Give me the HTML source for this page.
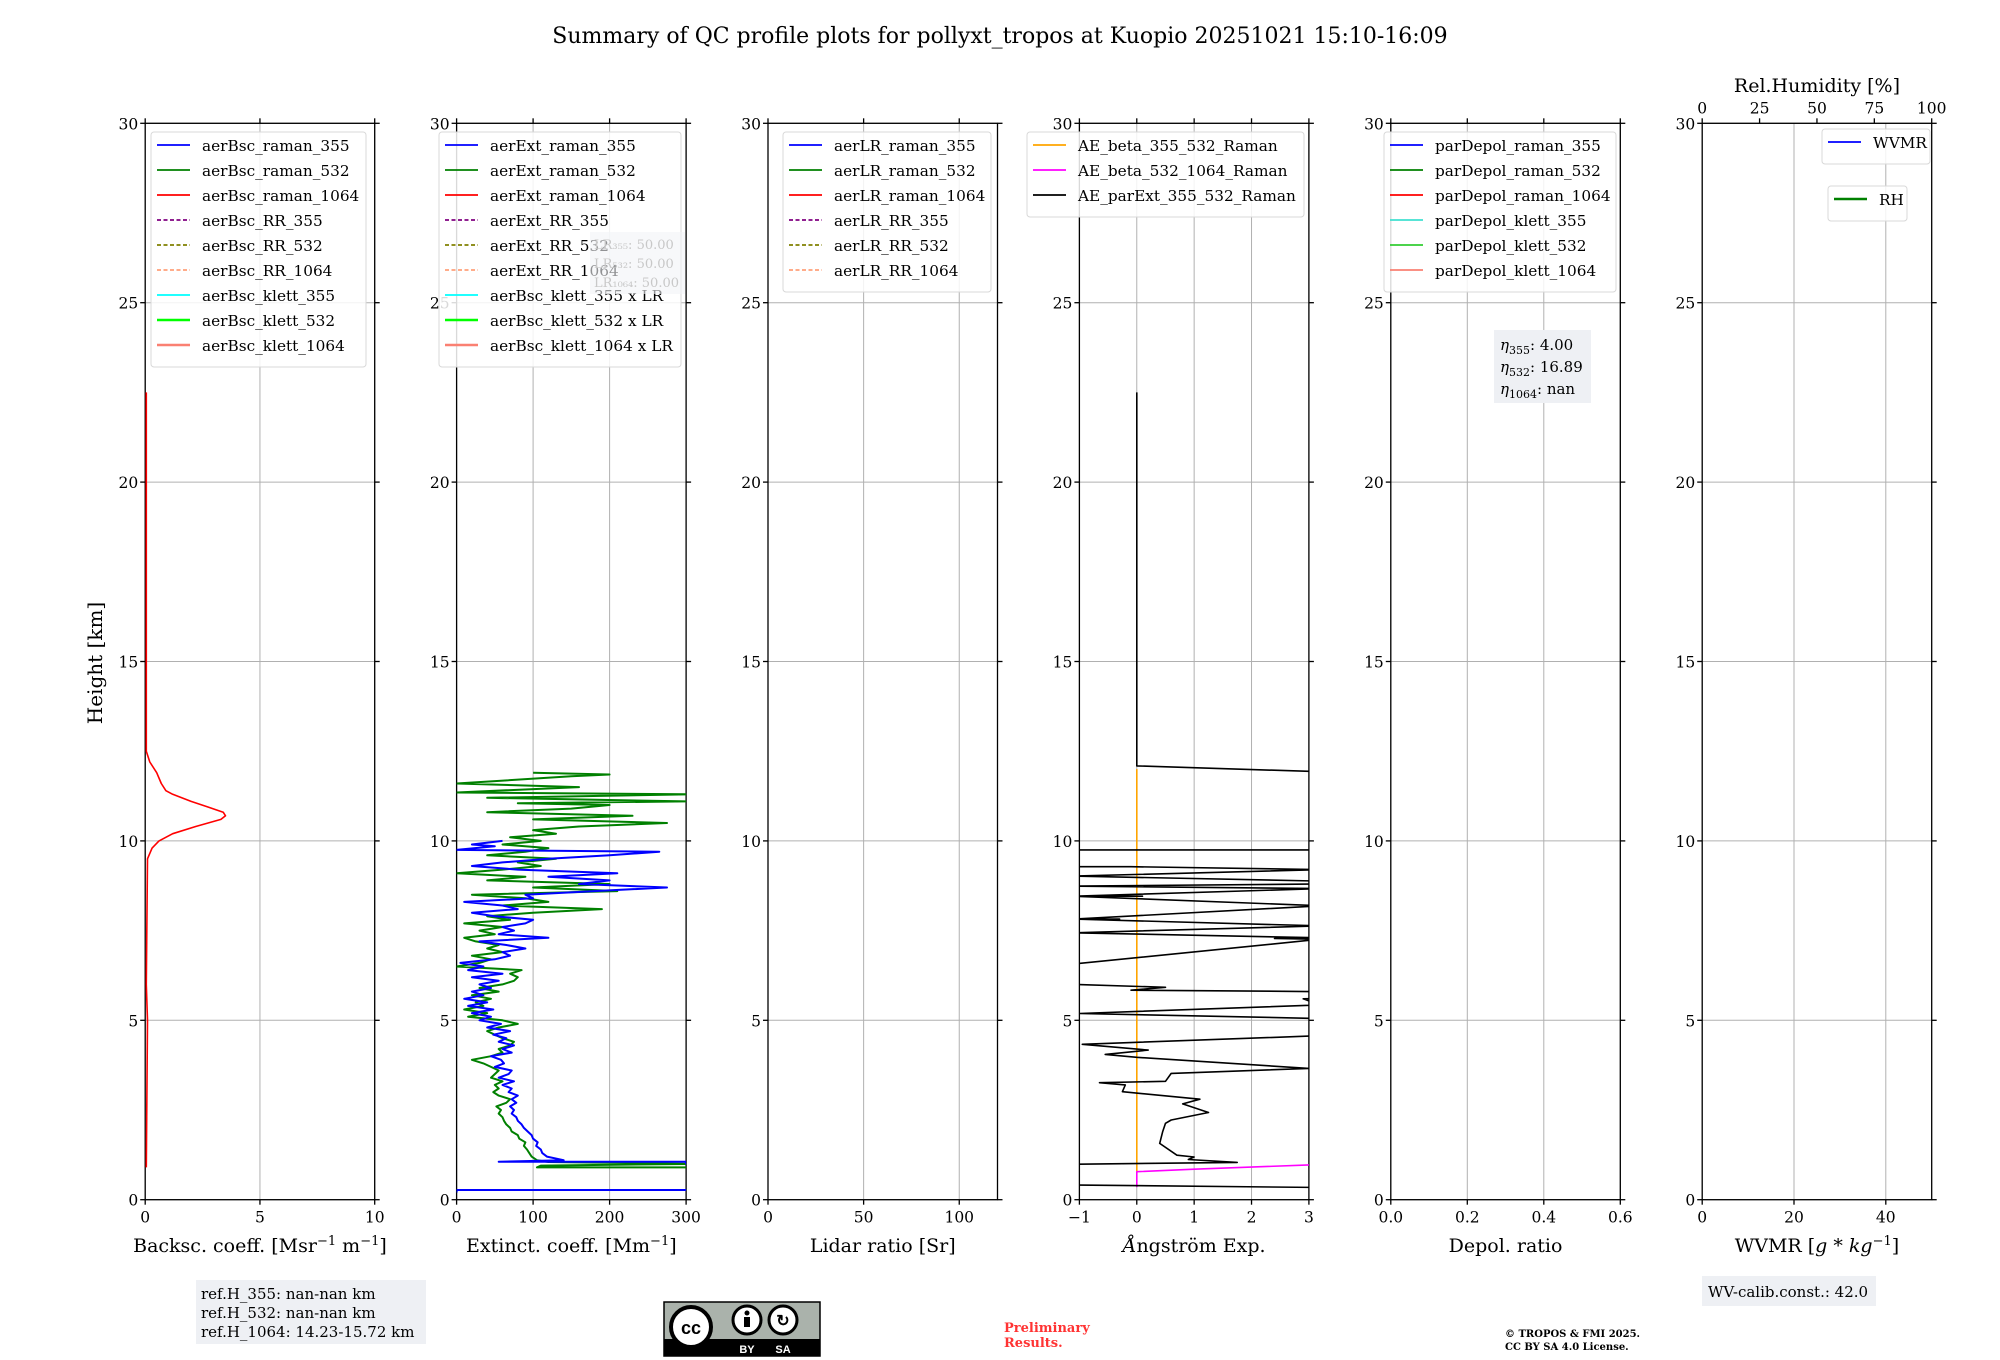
<!DOCTYPE html>
<html><head><meta charset="utf-8">
<style>
html,body{margin:0;padding:0;background:#fff;}
svg{display:block;font-family:"DejaVu Serif","Liberation Serif",serif;}
</style></head>
<body>
<svg id="fig" width="2000" height="1360" viewBox="0 0 2000 1360" xmlns="http://www.w3.org/2000/svg">
<text x="1000" y="43" font-size="22" text-anchor="middle">Summary of QC profile plots for pollyxt_tropos at Kuopio 20251021 15:10-16:09</text>
<text transform="translate(102,663) rotate(-90)" font-size="20" text-anchor="middle">Height [km]</text>
<g id="panels"></g>
<rect x="196" y="1280" width="230" height="64" fill="#eef0f4"/>
<text font-size="15"><tspan x="201" y="1299">ref.H_355: nan-nan km</tspan><tspan x="201" y="1318">ref.H_532: nan-nan km</tspan><tspan x="201" y="1337">ref.H_1064: 14.23-15.72 km</tspan></text>
<g>
<rect x="664" y="1302" width="156" height="54" fill="#aab2ab" stroke="#000" stroke-width="1.5"/>
<rect x="664" y="1339" width="156" height="17" fill="#000"/>
<circle cx="691" cy="1327" r="20" fill="#fff" stroke="#000" stroke-width="4"/>
<text x="691" y="1334" font-size="18" font-weight="bold" text-anchor="middle" font-family="Liberation Sans, sans-serif">cc</text>
<circle cx="747" cy="1320" r="14" fill="#fff" stroke="#000" stroke-width="3"/>
<circle cx="747" cy="1313" r="2.5" fill="#000"/><rect x="744" y="1317" width="6" height="10" fill="#000"/>
<circle cx="783" cy="1320" r="14" fill="#fff" stroke="#000" stroke-width="3"/>
<text x="783" y="1326" font-size="16" font-weight="bold" text-anchor="middle" font-family="Liberation Sans, sans-serif">↻</text>
<text x="747" y="1353" font-size="11" fill="#fff" font-weight="bold" text-anchor="middle" font-family="Liberation Sans, sans-serif">BY</text>
<text x="783" y="1353" font-size="11" fill="#fff" font-weight="bold" text-anchor="middle" font-family="Liberation Sans, sans-serif">SA</text>
</g>
<text font-size="13" font-weight="bold" fill="#ff3333"><tspan x="1004" y="1332">Preliminary</tspan><tspan x="1004" y="1347">Results.</tspan></text>
<text font-size="10" font-weight="bold"><tspan x="1505" y="1337">© TROPOS &amp; FMI 2025.</tspan><tspan x="1505" y="1350">CC BY SA 4.0 License.</tspan></text>
<rect x="1702" y="1276" width="174" height="30" fill="#eef0f4"/>
<text x="1708" y="1297" font-size="15">WV-calib.const.: 42.0</text>
</svg>
<script>
// ---- data ----
const heightTicks = [0,5,10,15,20,25,30];
const bscHeights = [0.9,5,6,9.5,9.8,10.0,10.2,10.4,10.6,10.7,10.8,10.95,11.1,11.3,11.4,11.6,11.9,12.2,12.5,22.5];
const bsc1064 = [0.05,0.1,0.05,0.1,0.3,0.6,1.2,2.2,3.3,3.5,3.4,2.7,2.0,1.2,0.9,0.7,0.5,0.2,0.05,0.05];
const ext355Heights = [0.2,0.27,0.27,1.0,1.0,1.06,1.06,1.1,1.2,1.3,1.4,1.5,1.6,1.7,1.8,1.9,2.0,2.1,2.2,2.3,2.4,2.5,2.6,2.7,2.8,2.9,3.0,3.1,3.2,3.3,3.4,3.5,3.6,3.7,3.8,3.9,4.0,4.1,4.2,4.3,4.4,4.5,4.6,4.7,4.8,4.9,5.0,5.1,5.2,5.3,5.4,5.5,5.6,5.7,5.8,5.9,6.0,6.1,6.2,6.3,6.4,6.5,6.6,6.7,6.8,6.9,7.0,7.1,7.2,7.3,7.4,7.5,7.6,7.7,7.8,7.9,8.0,8.1,8.2,8.3,8.4,8.5,8.6,8.7,8.8,8.9,9.0,9.1,9.2,9.3,9.4,9.5,9.6,9.7,9.75,9.85,9.9,10.0];
const ext355 = [0,0,320,320,300,300,55,140,118,112,110,104,106,100,98,93,88,85,80,78,72,75,70,78,72,80,68,72,60,75,55,68,72,50,62,58,45,72,60,75,55,65,48,70,40,58,30,45,20,48,15,40,10,35,20,45,30,55,20,60,15,35,5,50,70,60,90,65,30,120,55,75,60,90,100,50,20,80,60,10,100,90,180,275,160,200,120,210,80,20,60,120,200,265,0,50,20,60];
const ext532Heights = [0.2,0.27,0.27,0.9,0.9,0.95,1.0,1.0,1.05,1.1,1.2,1.3,1.4,1.5,1.6,1.7,1.8,1.9,2.0,2.1,2.2,2.3,2.4,2.5,2.6,2.7,2.8,2.9,3.0,3.1,3.2,3.3,3.4,3.5,3.6,3.7,3.8,3.9,4.0,4.1,4.2,4.3,4.4,4.5,4.6,4.7,4.8,4.9,5.0,5.1,5.2,5.3,5.4,5.5,5.6,5.7,5.8,5.9,6.0,6.1,6.2,6.3,6.4,6.5,6.6,6.7,6.8,6.9,7.0,7.1,7.2,7.3,7.4,7.5,7.6,7.7,7.8,7.9,8.0,8.1,8.2,8.3,8.4,8.5,8.6,8.7,8.8,8.9,9.0,9.1,9.2,9.3,9.4,9.5,9.6,9.7,9.8,9.9,10.0,10.1,10.2,10.3,10.4,10.5,10.6,10.7,10.8,10.9,11.0,11.05,11.1,11.2,11.3,11.35,11.5,11.6,11.8,11.85,11.9];
const ext532 = [0,0,320,320,105,110,320,300,120,105,98,95,92,88,90,82,80,72,70,65,62,60,55,58,52,65,70,55,48,55,50,60,45,50,55,45,35,20,45,60,55,70,75,60,50,40,55,80,60,15,40,10,35,25,45,20,55,30,60,75,80,70,85,0,30,45,20,60,40,55,25,10,50,30,60,10,70,40,100,190,60,120,90,20,210,100,200,40,90,0,60,110,80,130,40,90,120,60,110,70,130,100,160,275,100,230,40,150,200,80,300,40,310,0,160,0,150,200,100];
const aeHeights = [22.5,12.09,11.93,9.75,9.75,9.28,9.28,9.2,9.02,8.88,8.8,8.74,8.67,8.46,8.46,8.46,8.19,7.82,7.82,7.82,7.63,7.44,7.3,7.28,7.26,6.57,6.0,5.92,5.84,5.8,5.61,5.6,5.43,5.19,5.05,4.57,4.33,4.17,4.05,3.97,3.66,3.52,3.3,3.26,3.2,3.01,2.8,2.67,2.43,2.22,2.13,1.89,1.57,1.24,1.19,1.12,1.04,0.99,0.41,0.34];
const aeParExt = [0,0,3.2,3.2,-1.1,-1.1,-0.1,3.2,-1.1,3.2,3.2,-1.1,3.2,-1.1,0.1,-1.1,3.2,-1.1,-0.3,-1.1,3.2,-1.1,3.2,2.4,3.2,-1.1,-1.1,0.5,-0.1,3.2,3.2,2.9,3.2,-1.0,3.2,3.2,-0.95,0.2,-0.55,0.0,3.0,0.6,0.5,-0.65,-0.2,-0.25,1.1,0.8,1.25,0.6,0.5,0.45,0.4,0.7,1.0,0.9,1.75,-1.1,-1.1,3.2];
const aeBeta1064Heights = [0.35,0.78,0.85,0.98];
const aeBeta1064 = [0,0,1.0,3.2];
const aeBeta355Heights = [0.8,12.0];
const aeBeta355 = [0,0];

// ---- layout ----
const TOP=123.3, BOT=1199.7, W=229.5, STEP=311.4, LEFTS=[0,1,2,3,4,5].map(i=>145.2+i*STEP);
const NS="http://www.w3.org/2000/svg";
const root=document.getElementById('panels');
function el(tag,attrs,parent){const e=document.createElementNS(NS,tag);for(const k in attrs)e.setAttribute(k,attrs[k]);(parent||root).appendChild(e);return e;}
const yScale=h=>BOT-(h/30)*(BOT-TOP);

const panels=[
 {name:'backscatter',min:0,max:10,ticks:[0,5,10],fmt:v=>String(v),label:'Backsc. coeff. [Msr<tspan dy="-7" font-size="13">−1</tspan><tspan dy="7"> m</tspan><tspan dy="-7" font-size="13">−1</tspan><tspan dy="7">]</tspan>'},
 {name:'extinction',min:0,max:300,ticks:[0,100,200,300],fmt:v=>String(v),label:'Extinct. coeff. [Mm<tspan dy="-7" font-size="13">−1</tspan><tspan dy="7">]</tspan>'},
 {name:'lidar-ratio',min:0,max:120,ticks:[0,50,100],fmt:v=>String(v),label:'Lidar ratio [Sr]'},
 {name:'angstrom',min:-1,max:3,ticks:[-1,0,1,2,3],fmt:v=>v<0?'−'+(-v):String(v),label:'<tspan font-style="italic">Å</tspan>ngström Exp.'},
 {name:'depol',min:0,max:0.6,ticks:[0,0.2,0.4,0.6],fmt:v=>v.toFixed(1),label:'Depol. ratio'},
 {name:'wvmr',min:0,max:50,ticks:[0,20,40],fmt:v=>String(v),label:'WVMR [<tspan font-style="italic">g</tspan> * <tspan font-style="italic">kg</tspan><tspan dy="-7" font-size="13">−1</tspan><tspan dy="7">]</tspan>'}
];
const xScales=[];
panels.forEach((p,i)=>{
  const L=LEFTS[i], R=L+W;
  const xs=v=>L+(v-p.min)/(p.max-p.min)*W; xScales.push(xs);
  const g=el('g',{});
  
  
  const cp=el('clipPath',{id:'clip'+i},g);
  el('rect',{x:L,y:TOP,width:W,height:BOT-TOP},cp);
  p.ticks.forEach(t=>{const gl=el('line',{x1:xs(t),x2:xs(t),y1:TOP,y2:BOT,stroke:'#b0b0b0','stroke-width':1},g);});
  heightTicks.forEach(t=>{const gl=el('line',{x1:L,x2:R,y1:yScale(t),y2:yScale(t),stroke:'#b0b0b0','stroke-width':1},g);});
  const fr=el('rect',{x:L,y:TOP,width:W,height:BOT-TOP,fill:'none',stroke:'#000','stroke-width':1.3},g);
  
  
  heightTicks.forEach(t=>{
    const y=yScale(t);
    el('line',{x1:L-5,x2:L,y1:y,y2:y,stroke:'#000','stroke-width':1.3},g);
    el('line',{x1:R,x2:R+5,y1:y,y2:y,stroke:'#000','stroke-width':1.3},g);
    const tl=el('text',{x:L-7,y:y+6,'font-size':15.5,'text-anchor':'end'},g);tl.textContent=t;
    
    
  });
  p.ticks.forEach(t=>{
    const x=xs(t);
    el('line',{x1:x,x2:x,y1:BOT,y2:BOT+5,stroke:'#000','stroke-width':1.3},g);
    if(i<5) el('line',{x1:x,x2:x,y1:TOP-5,y2:TOP,stroke:'#000','stroke-width':1.3},g);
    const tl=el('text',{x:x,y:BOT+23,'font-size':15.5,'text-anchor':'middle'},g);tl.textContent=p.fmt(t);
    
    
  });
  const xl=el('text',{x:L+W/2,y:1252,'font-size':19,'text-anchor':'middle'},g);xl.innerHTML=p.label;
  
  
  p.g=g;
});

function series(pi,hs,vs,color,name,w){
  const xs=xScales[pi];
  const d=hs.map((h,k)=>(k?'L':'M')+xs(vs[k]).toFixed(1)+','+yScale(h).toFixed(1)).join('');
  const pth=el('path',{d:d,fill:'none',stroke:color,'stroke-width':w||1.6,'clip-path':'url(#clip'+pi+')','stroke-linejoin':'round'},panels[pi].g);
  
  
}
series(0,bscHeights,bsc1064,'#ff0000','aerBsc-raman-1064-line');
series(1,ext532Heights,ext532,'#008000','aerExt-raman-532-line',2);
series(1,ext355Heights,ext355,'#0000ff','aerExt-raman-355-line',2);
series(3,aeBeta355Heights,aeBeta355,'#ffa500','AE-beta-355-532-line');
series(3,aeBeta1064Heights,aeBeta1064,'#ff00ff','AE-beta-532-1064-line');
series(3,aeHeights,aeParExt,'#000000','AE-parExt-355-532-line');

(function(){
  const L=LEFTS[5], g=panels[5].g;
  [0,25,50,75,100].forEach(t=>{
    const x=L+t/100*W;
    el('line',{x1:x,x2:x,y1:TOP-5,y2:TOP,stroke:'#000','stroke-width':1.3},g);
    const tl=el('text',{x:x,y:TOP-10,'font-size':15.5,'text-anchor':'middle'},g);tl.textContent=t;
    
    
  });
  const tt=el('text',{x:L+W/2,y:92,'font-size':19,'text-anchor':'middle'},g);tt.textContent='Rel.Humidity [%]';
  
  
})();

function legend(x,y,w,entries,name){
  const g=el('g',{});
  
  
  el('rect',{x:x,y:y,width:w,height:entries.length*25+10,fill:'#fff','fill-opacity':0.85,stroke:'#d8d8d8',rx:3},g);
  entries.forEach((e,k)=>{
    const cy=y+13+k*25;
    el('line',{x1:x+6,x2:x+39,y1:cy,y2:cy,stroke:e[1],'stroke-width':e[3]||1.8,'stroke-dasharray':e[2]?'4,2.5':'none'},g);
    const t=el('text',{x:x+51,y:cy+6,'font-size':15.3},g);t.textContent=e[0];
    
    
  });
}
const common=(pre)=>[
 [pre+'raman_355','#0000ff'],[pre+'raman_532','#008000'],[pre+'raman_1064','#ff0000'],
 [pre+'RR_355','#800080',1],[pre+'RR_532','#808000',1],[pre+'RR_1064','#ffa07a',1]];
legend(151,132,215,common('aerBsc_').concat([['aerBsc_klett_355','#00ffff'],['aerBsc_klett_532','#00ff00',0,2.5],['aerBsc_klett_1064','#fa8072',0,2.5]]),'backscatter-legend');
legend(439,132,242,common('aerExt_').concat([['aerBsc_klett_355 x LR','#00ffff'],['aerBsc_klett_532 x LR','#00ff00',0,2.5],['aerBsc_klett_1064 x LR','#fa8072',0,2.5]]),'extinction-legend');
(function(){
  const g=el('g',{});
  
  
  el('rect',{x:590,y:232,width:95,height:62,fill:'#f2f3f6','fill-opacity':0.6},g);
  ['LR₃₅₅: 50.00','LR₅₃₂: 50.00','LR₁₀₆₄: 50.00'].forEach((s,k)=>{const t=el('text',{x:594,y:249+k*19,'font-size':13,fill:'#c8c8c8'},g);t.textContent=s;});
})();
legend(783,132,208,common('aerLR_'),'lidar-ratio-legend');
legend(1027,132,277,[['AE_beta_355_532_Raman','#ffa500'],['AE_beta_532_1064_Raman','#ff00ff'],['AE_parExt_355_532_Raman','#000000']],'angstrom-legend');
legend(1384,132,232,[['parDepol_raman_355','#0000ff'],['parDepol_raman_532','#008000'],['parDepol_raman_1064','#ff0000'],['parDepol_klett_355','#40e0d0'],['parDepol_klett_532','#32cd32'],['parDepol_klett_1064','#fa8072']],'depol-legend');
legend(1822,129,108,[['WVMR','#0000ff']],'wvmr-legend');
legend(1828,186,79,[['RH','#008000',0,2.5]],'rh-legend');
(function(){
  const g=el('g',{});
  
  
  el('rect',{x:1494,y:330,width:97,height:73,fill:'#eef0f4'},g);
  [['355','4.00'],['532','16.89'],['1064','nan']].forEach((s,k)=>{
    const t=el('text',{x:1500,y:350+k*22,'font-size':15},g);
    t.innerHTML='<tspan font-style="italic">η</tspan><tspan font-size="11" dy="4">'+s[0]+'</tspan><tspan dy="-4">: '+s[1]+'</tspan>';
  });
})();
</script>
</body></html>
